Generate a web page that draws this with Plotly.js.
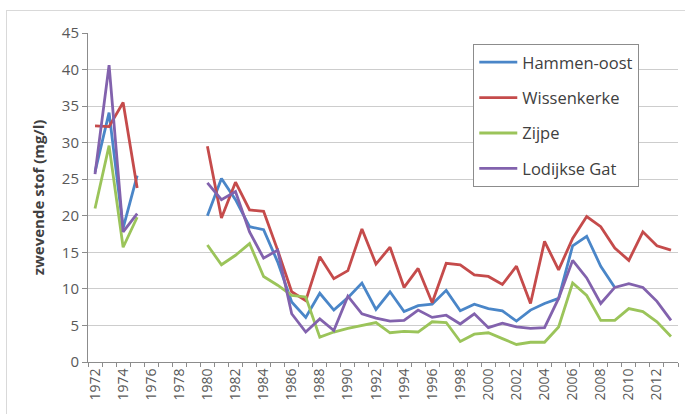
<!DOCTYPE html>
<html><head><meta charset="utf-8">
<script src="https://cdn.plot.ly/plotly-3.0.1.min.js"></script>
<style>
html,body{margin:0;padding:0;background:#fff;overflow:hidden;}
#wrap{position:relative;width:685px;height:414px;overflow:hidden;}
#chart{width:685px;height:414px;}
#frame{position:absolute;left:6px;top:10px;width:700px;height:420px;border:1px solid #d9d9d9;pointer-events:none;}
</style></head>
<body>
<div id="wrap"><div id="chart"></div><div id="frame"></div></div>
<script>
const years = [1972,1973,1974,1975,1976,1977,1978,1979,1980,1981,1982,1983,1984,1985,1986,1987,1988,1989,1990,1991,1992,1993,1994,1995,1996,1997,1998,1999,2000,2001,2002,2003,2004,2005,2006,2007,2008,2009,2010,2011,2012,2013];
const hammenOost = [26,34.1,18.3,25.5,null,null,null,null,20,25.1,22.2,18.5,18.1,13.7,8.2,6.1,9.4,7.1,8.8,10.8,7.2,9.6,6.9,7.7,7.9,9.8,7.0,7.9,7.3,7.0,5.6,7.1,8.0,8.7,15.9,17.2,13.1,10.2,null,null,null,null];
const wissenkerke = [32.3,32.2,35.5,23.8,null,null,null,null,29.5,19.7,24.6,20.8,20.6,15.3,9.6,8.4,14.4,11.4,12.5,18.2,13.4,15.7,10.2,12.8,8.1,13.5,13.3,11.9,11.7,10.6,13.1,8.0,16.5,12.6,16.9,19.9,18.5,15.6,13.9,17.8,15.9,15.3];
const zijpe = [21,29.6,15.7,19.8,null,null,null,null,16,13.3,14.6,16.2,11.7,10.5,9.1,8.9,3.4,4.1,4.6,5.0,5.4,4.0,4.2,4.1,5.5,5.4,2.8,3.8,4.0,3.2,2.4,2.7,2.7,4.8,10.8,9.1,5.7,5.7,7.3,6.9,5.5,3.5];
const lodijkseGat = [25.7,40.6,17.8,20.3,null,null,null,null,24.5,22.2,23.3,17.8,14.2,15.3,6.6,4.1,5.9,4.3,9.0,6.6,6.0,5.6,5.7,7.1,6.1,6.4,5.2,6.6,4.7,5.3,4.8,4.6,4.7,8.7,13.9,11.5,8.0,10.2,10.7,10.2,8.3,5.7];
const xTickLabels = [1972,1974,1976,1978,1980,1982,1984,1986,1988,1990,1992,1994,1996,1998,2000,2002,2004,2006,2008,2010,2012];
const seriesNames = ['Hammen-oost','Wissenkerke','Zijpe','Lodijkse Gat'];
const seriesColors = ['#4a86c8','#c54b4b','#9bc45a','#8262ad'];
const seriesData = [hammenOost, wissenkerke, zijpe, lodijkseGat];

const traces = seriesData.map((d,i)=>({
  x: years, y: d, type:'scatter', mode:'lines', name: seriesNames[i],
  legendgroup: 'g'+i,
  connectgaps:false,
  line:{color: seriesColors[i], width:2.8}
}));

const layout = {
  width:685, height:414,
  margin:{l:88, r:7, t:33, b:52},
  paper_bgcolor:'rgba(0,0,0,0)', plot_bgcolor:'#fff',
  font:{family:'Open Sans, Liberation Sans, sans-serif', color:'#595959'},
  showlegend:true,
  legend:{
    x:0.653, y:0.967, xanchor:'left', yanchor:'top',
    bgcolor:'#fff', bordercolor:'#8c8c8c', borderwidth:1,
    font:{size:16.5, color:'#404040'},
    itemwidth:38,
    tracegroupgap:11, traceorder:'grouped'
  },
  xaxis:{
    type:'linear', range:[1971.5,2013.5],
    tickmode:'array', tickvals:xTickLabels, ticktext:xTickLabels.map(String),
    tickangle:-90, tickfont:{size:14, color:'#595959'},
    ticks:'', showgrid:false, zeroline:false,
    showline:true, linecolor:'#8c8c8c', linewidth:1,
    minor:{tick0:1971.5, dtick:1, ticks:'outside', ticklen:4, tickcolor:'#8c8c8c', showgrid:false}
  },
  yaxis:{
    range:[0,45], dtick:5, tick0:0,
    tickfont:{size:15, color:'#595959'},
    ticks:'outside', ticklen:5, tickcolor:'#8c8c8c',
    showgrid:true, gridcolor:'#cdcdcd', gridwidth:1,
    zeroline:false, showline:true, linecolor:'#8c8c8c', linewidth:1,
    title:{text:'<b>zwevende stof (mg/l)</b>', font:{size:15, color:'#404040'}, standoff:13}
  }
};
Plotly.newPlot('chart', traces, layout, {displayModeBar:false, staticPlot:true});
</script>
</body></html>
